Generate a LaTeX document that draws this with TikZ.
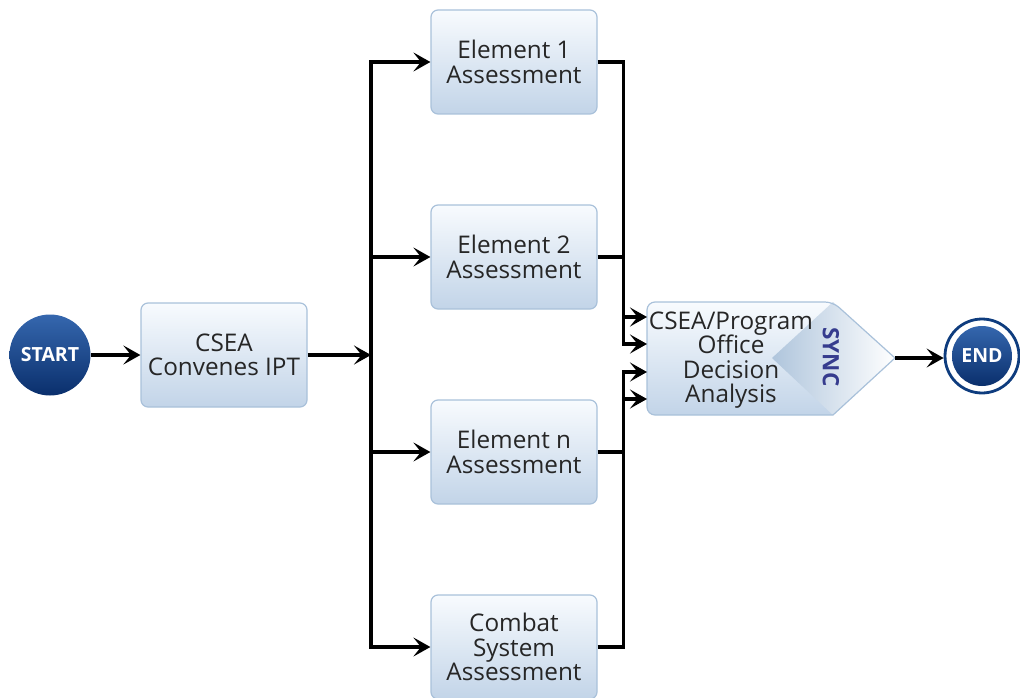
\documentclass[tikz,border=0pt]{standalone}
\usepackage{fontspec}
\setmainfont{Open Sans}
\usetikzlibrary{arrows.meta,calc}
\definecolor{boxtop}{HTML}{F8FBFE}
\definecolor{boxbot}{HTML}{C2D4E8}
\definecolor{boxline}{HTML}{A9C1DA}
\definecolor{navytop}{HTML}{3567AE}
\definecolor{navybot}{HTML}{0A2F6C}
\definecolor{navyring}{HTML}{0E3C7E}
\definecolor{synctext}{HTML}{363C8E}
\definecolor{syncshade}{HTML}{AFC5DC}
\definecolor{txt}{HTML}{262626}
\begin{document}
\begin{tikzpicture}[x=1pt,y=-1pt,
  stepbox/.style={draw=boxline, line width=1.2pt, rounded corners=7pt,
    top color=boxtop, bottom color=boxbot,
    minimum width=166pt, minimum height=104pt, align=center, text=txt,
    font=\fontsize{24.3}{24.5}\selectfont, inner sep=0pt},
  terminal/.style={circle, top color=navytop, bottom color=navybot, text=white,
    font=\bfseries\fontsize{19.5}{22}\selectfont, inner sep=0pt},
  arr/.style={line width=3.1pt, -{Stealth[length=17pt,width=19pt,inset=7.5pt]}},
  wire/.style={line width=3.1pt}
]
\useasboundingbox (0,0) rectangle (1020,698);

% start and first step
\node[terminal, minimum size=81pt] (start) at (50,355) {START};
\node[stepbox] (csea) at (224,355) {CSEA\\Convenes IPT};
\coordinate (j) at (371,355);

% parallel assessments
\node[stepbox] (e1) at (514,62)  {Element 1\\Assessment};
\node[stepbox] (e2) at (514,257) {Element 2\\Assessment};
\node[stepbox] (en) at (514,452) {Element n\\Assessment};
\node[stepbox] (cs) at (514,647) {Combat\\System\\Assessment};

% decision / sync block
\shade[top color=boxtop, bottom color=boxbot, rounded corners=8pt]
  (647,302) -- (833,302) [sharp corners] -- (895,358) -- (833,415) [rounded corners=8pt] -- (647,415) -- cycle;
\shade[left color=syncshade, right color=white]
  (772,358) -- (833,302) -- (895,358) -- (833,415) -- cycle;
\draw[boxline, line width=1.2pt, rounded corners=8pt]
  (647,302) -- (833,302) [sharp corners] -- (895,358) -- (833,415) [rounded corners=8pt] -- (647,415) -- cycle;
\node[align=center, text=txt, font=\fontsize{24.3}{24.5}\selectfont, inner sep=0pt]
  (sync) at (731,360) {CSEA/Program\\Office\\Decision\\Analysis};
\node[rotate=-90, text=synctext, font=\bfseries\fontsize{22.5}{24}\selectfont, inner sep=0pt]
  (synclabel) at (831,357) {SYNC};
\coordinate (tip) at (895,358);
\coordinate (in1) at (647,317);
\coordinate (in2) at (647,344);
\coordinate (in3) at (647,372);
\coordinate (in4) at (647,399);

% end terminal
\node[circle, draw=navyring, line width=2.8pt, fill=white, minimum size=74pt] (end) at (982,356) {};
\node[terminal, minimum size=60pt] (endcore) at (end.center) {END};

% connectors
\draw[arr] (start.east) -- (csea.west);
\draw[arr] (csea.east) -- (j);
\draw[arr] (j) |- (e1.west);
\draw[arr] (j) |- (e2.west);
\draw[arr] (j) |- (en.west);
\draw[arr] (j) |- (cs.west);
\draw[arr] (e1.east) -- ++(26,0) |- (in1);
\draw[arr] (e2.east) -- ++(26,0) |- (in2);
\draw[arr] (en.east) -- ++(26,0) |- (in3);
\draw[arr] (cs.east) -- ++(26,0) |- (in4);
\draw[arr] (tip) -- (tip -| end.west);
\end{tikzpicture}
\end{document}
